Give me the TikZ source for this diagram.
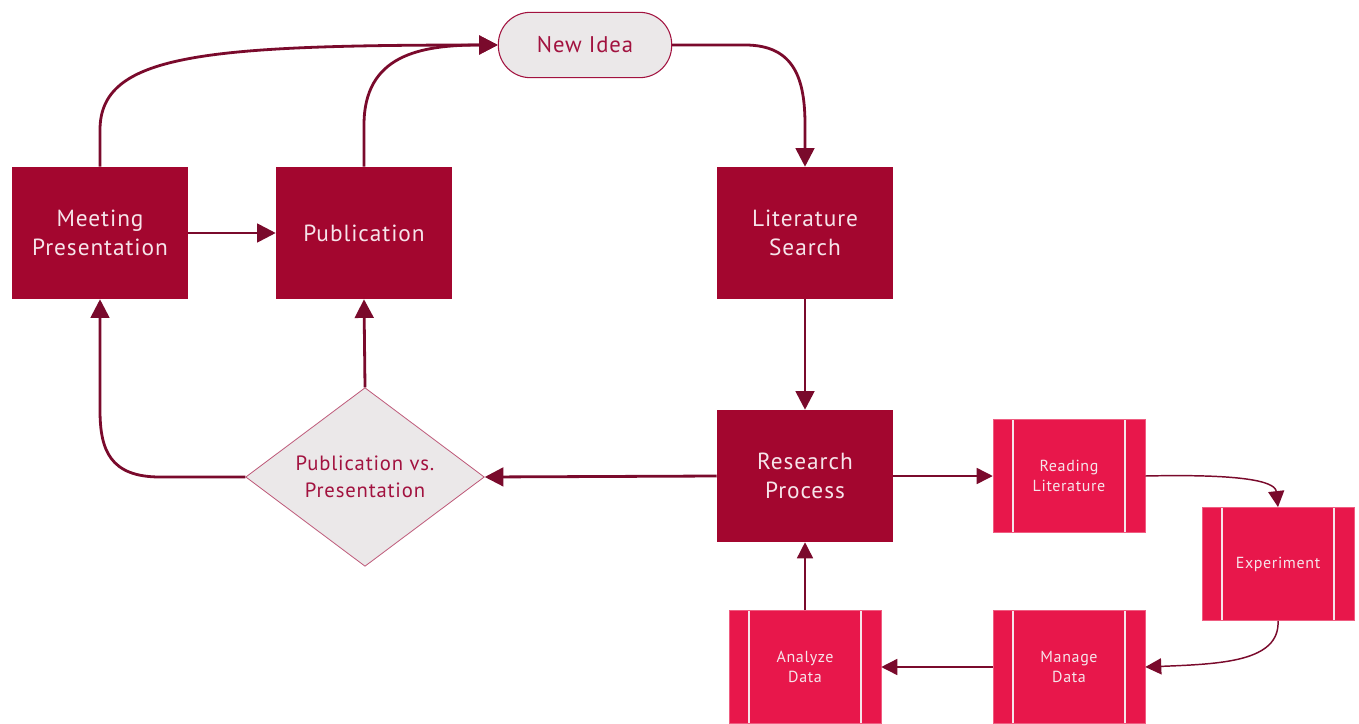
\documentclass[tikz,border=0pt]{standalone}
\usepackage{fontspec}
\setmainfont{PT Sans}
\newfontfamily\spaced[LetterSpace=4]{PT Sans}
\usetikzlibrary{arrows.meta,shapes.geometric}
\definecolor{darkbox}{HTML}{A3062F}
\definecolor{brightbox}{HTML}{E8174B}
\definecolor{arrowc}{HTML}{7A0A2C}
\definecolor{lightfill}{HTML}{EBE8E9}
\definecolor{boxtext}{HTML}{F6E4EA}
\definecolor{graytext}{HTML}{A2123F}
\begin{document}
\begin{tikzpicture}[x=0.75pt,y=-0.75pt,
  darkstep/.style={rectangle, fill=darkbox, text=boxtext, minimum width=132pt, minimum height=99pt, align=center, font=\spaced\fontsize{17.5}{22}\selectfont, inner sep=2pt},
  subproc/.style={rectangle, fill=brightbox, draw=brightbox!70!white, line width=0.4pt, text=boxtext, minimum width=114pt, minimum height=85pt, align=center, font=\spaced\fontsize{12}{15}\selectfont, inner sep=2pt,
    path picture={\draw[boxtext, line width=1pt] ([xshift=15pt]path picture bounding box.north west) -- ([xshift=15pt]path picture bounding box.south west);
      \draw[boxtext, line width=1pt] ([xshift=-15pt]path picture bounding box.north east) -- ([xshift=-15pt]path picture bounding box.south east);}},
  mainarrow/.style={draw=arrowc, line width=2.1pt, -{Triangle[length=14pt,width=14pt]}},
  thinarrow/.style={draw=arrowc, line width=1.1pt, -{Triangle[length=12pt,width=12pt]}}]
\useasboundingbox (0,0) rectangle (1359,724);
\fill[white] (0,0) rectangle (1359,724);

\node[rectangle, rounded corners=24pt, fill=lightfill, draw=graytext, line width=0.8pt, text=graytext, minimum width=130pt, minimum height=49pt, font=\spaced\fontsize{17}{20}\selectfont] (idea) at (585,45) {New Idea};
\node[darkstep] (meet) at (100,233) {Meeting\\Presentation};
\node[darkstep] (pub) at (364,233) {Publication};
\node[darkstep] (lit) at (805,233) {Literature\\Search};
\node[darkstep] (res) at (805,476) {Research\\Process};
\node[diamond, fill=lightfill, draw=graytext!70!white, line width=0.6pt, minimum width=179pt, minimum height=134pt, inner sep=0pt,
  label={[text=graytext, align=center, font=\spaced\fontsize{15.5}{20}\selectfont]center:Publication vs.\\Presentation}] (dia) at (365,477) {};
\node[subproc] (read) at (1069,476) {Reading\\Literature};
\node[subproc] (exp) at (1278,564) {Experiment};
\node[subproc] (man) at (1069,667) {Manage\\Data};
\node[subproc] (ana) at (805,667) {Analyze\\Data};

\coordinate (m1) at (100,130);
\coordinate (p1) at (364,125);
\coordinate (i1) at (745,45);
\coordinate (l1) at (805,125);
\coordinate (d1) at (160,477);
\coordinate (d2) at (100,410);

\draw[mainarrow] (meet.north) -- (m1) .. controls (100,55) and (200,45) .. (idea.west);
\draw[mainarrow] (pub.north) -- (p1) .. controls (364,55) and (420,45) .. (idea.west);
\draw[mainarrow] (idea.east) -- (i1) .. controls (795,45) and (805,80) .. (l1) -- (lit.north);
\draw[mainarrow] (lit.south) -- (res.north);
\draw[mainarrow] (res.west) -- (dia.east);
\draw[mainarrow] (dia.north) -- (pub.south);
\draw[mainarrow] (dia.west) -- (d1) .. controls (110,477) and (100,450) .. (d2) -- (meet.south);
\draw[mainarrow] (meet.east) -- (pub.west);

\draw[thinarrow] (res.east) -- (read.west);
\draw[thinarrow] (read.east) .. controls (1235,474) and (1275,480) .. (exp.north);
\draw[thinarrow] (exp.south) .. controls (1280,662) and (1220,664) .. (man.east);
\draw[thinarrow] (man.west) -- (ana.east);
\draw[thinarrow] (ana.north) -- (res.south);
\end{tikzpicture}
\end{document}
